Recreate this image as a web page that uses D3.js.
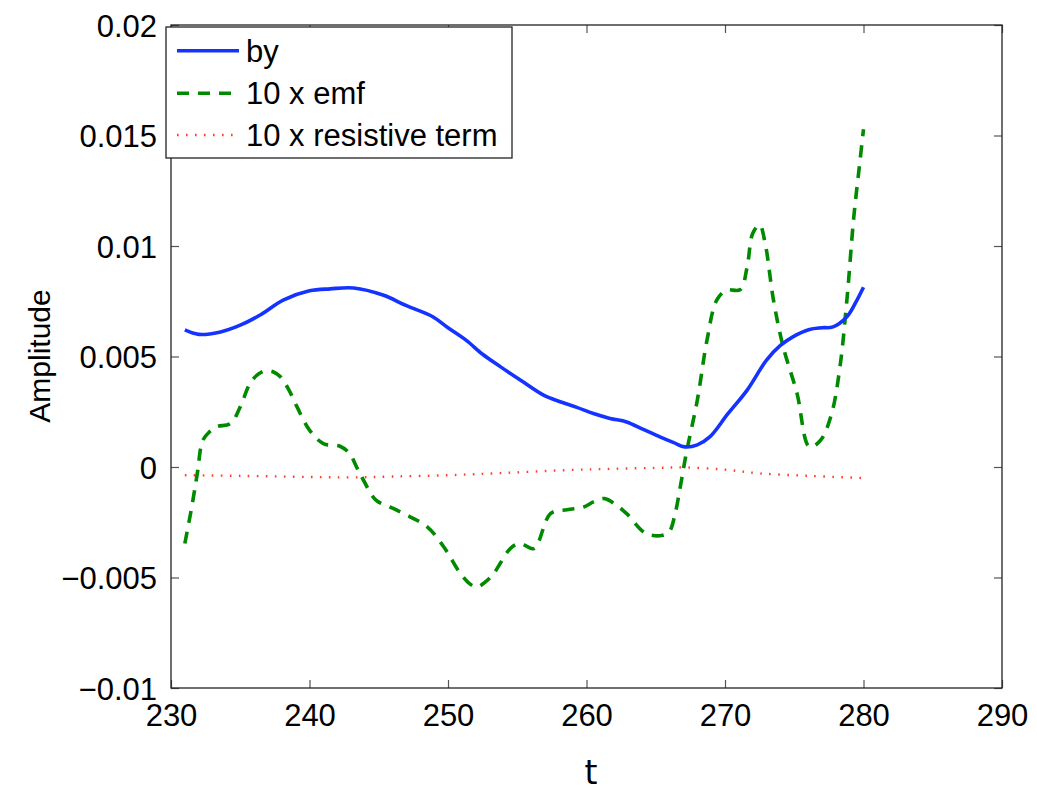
<!DOCTYPE html>
<html><head><meta charset="utf-8">
<script src="https://cdn.jsdelivr.net/npm/d3@7"></script>
<style>
html,body{margin:0;padding:0;background:#fff;}
svg{display:block;}
text{font-family:"Liberation Sans",Arial,Helvetica,sans-serif;}
</style></head>
<body><svg id="chart" width="1037" height="792"></svg>
<script>
const xTicks = [230,240,250,260,270,280,290];
const yTicks = [-0.01,-0.005,0,0.005,0.01,0.015,0.02];
const yTickLabels = ["\u22120.01","\u22120.005","0","0.005","0.01","0.015","0.02"];
const seriesNames = ["by","10 x emf","10 x resistive term"];

const byT = [231.0,232.0,233.5,235.0,236.5,238.1,240.0,241.5,243.2,245.3,247.0,248.9,250.0,251.3,252.5,253.8,255.3,256.9,258.1,259.3,260.5,261.7,262.9,264.1,265.3,266.3,267.1,268.0,268.9,270.2,271.6,273.0,274.0,274.9,276.1,277.0,277.8,278.8,279.4,280.0];
const byV = [0.0062,0.0060,0.0061,0.00642,0.0069,0.00755,0.00797,0.00806,0.0081,0.00778,0.0073,0.0068,0.0063,0.00574,0.0051,0.00453,0.0039,0.00325,0.00295,0.0027,0.00242,0.0022,0.00204,0.0017,0.00136,0.0011,0.00091,0.0010,0.00136,0.0024,0.00348,0.00484,0.0055,0.00589,0.00622,0.0063,0.00634,0.0068,0.0074,0.00813];

const emfT = [231.0,231.5,231.9,232.3,232.8,233.3,234.3,235.0,235.7,236.3,236.8,237.4,237.9,238.5,239.1,240.0,241.0,242.2,242.9,243.4,243.9,244.8,245.8,246.8,248.5,249.7,250.9,251.6,252.1,252.7,253.3,254.5,255.2,256.2,257.4,258.6,259.8,260.5,261.3,262.1,262.9,264.3,265.5,266.0,266.4,266.8,267.2,268.0,268.7,269.4,270.1,271.1,271.6,272.0,272.5,272.9,273.5,274.2,275.2,276.1,276.9,277.7,278.3,278.8,279.3,279.7,280.0];
const emfV = [-0.00346,-0.0018,-0.00029,0.00121,0.0016,0.00182,0.00197,0.00272,0.00378,0.0042,0.00435,0.0043,0.00408,0.0035,0.00272,0.00167,0.00106,0.00094,0.00061,0.0,-0.0006,-0.0015,-0.0018,-0.00211,-0.00271,-0.00362,-0.00482,-0.0053,-0.00543,-0.0052,-0.00482,-0.00369,-0.00346,-0.00369,-0.00211,-0.00193,-0.00181,-0.00158,-0.00143,-0.0017,-0.00211,-0.00301,-0.00309,-0.0029,-0.00211,-0.0008,0.00061,0.00302,0.00574,0.00755,0.0080,0.00803,0.00906,0.01057,0.01095,0.01012,0.00755,0.00544,0.00333,0.00091,0.00121,0.00242,0.00453,0.00755,0.01132,0.01359,0.01528];

const resT = [231.0,235.0,240.0,243.0,246.0,250.0,254.0,258.6,262.0,265.0,267.1,270.0,272.5,276.0,279.6,280.0];
const resV = [-0.00037,-0.0004,-0.00045,-0.00047,-0.00043,-0.00037,-0.00027,-0.00014,-0.00008,-0.00004,-0.00002,-0.00012,-0.00029,-0.0004,-0.00049,-0.0005];

const W = 1037, H = 792;
const m = {left:171, right:W-1002, top:25, bottom:H-688};
const svg = d3.select("#chart");
const x = d3.scaleLinear().domain([230,290]).range([m.left, W-m.right]);
const y = d3.scaleLinear().domain([-0.01,0.02]).range([H-m.bottom, m.top]);

const axisColor = "#555";
const fs = 31;
const gx = svg.append("g").attr("transform",`translate(0,${H-m.bottom})`)
  .call(d3.axisBottom(x).tickValues(xTicks).tickSize(-8).tickPadding(16).tickFormat(d3.format("d")));
const gxt = svg.append("g").attr("transform",`translate(0,${m.top})`)
  .call(d3.axisTop(x).tickValues(xTicks).tickSize(-8).tickFormat(""));
const gy = svg.append("g").attr("transform",`translate(${m.left},0)`)
  .call(d3.axisLeft(y).tickValues(yTicks).tickSize(-8).tickPadding(14).tickFormat((d,i)=>yTickLabels[i]));
const gyr = svg.append("g").attr("transform",`translate(${W-m.right},0)`)
  .call(d3.axisRight(y).tickValues(yTicks).tickSize(-8).tickFormat(""));
[gx,gxt,gy,gyr].forEach(g=>{
  g.select(".domain").remove();
  g.selectAll(".tick line").attr("stroke",axisColor).attr("stroke-width",1.2);
  g.selectAll("text").attr("fill","#000").style("font-size",fs+"px");
});
gx.selectAll("text").attr("dy","0.71em");
gy.selectAll("text").attr("dy","0.36em");
svg.append("rect").attr("x",m.left).attr("y",m.top)
  .attr("width",W-m.left-m.right).attr("height",H-m.top-m.bottom)
  .attr("fill","none").attr("stroke","#222").attr("stroke-width",1.3);

const line = d3.line().x(d=>x(d[0])).y(d=>y(d[1])).curve(d3.curveCatmullRom.alpha(0.5));
const styles = [
  {color:"#1433ff", w:3.6, dash:null},
  {color:"#008a00", w:3.6, dash:"12,9"},
  {color:"#ff3f2a", w:2.4, dash:"1.6,7.4"}
];
const data = [d3.zip(byT,byV), d3.zip(emfT,emfV), d3.zip(resT,resV)];
[2,1,0].forEach(i=>{
  const p = svg.append("path").datum(data[i]).attr("d",line)
    .attr("fill","none").attr("stroke",styles[i].color).attr("stroke-width",styles[i].w)
    .attr("stroke-linejoin","round");
  if(styles[i].dash) p.attr("stroke-dasharray",styles[i].dash);
});

const lg = svg.append("g");
lg.append("rect").attr("x",166).attr("y",27).attr("width",346).attr("height",131)
  .attr("fill","#fff").attr("stroke","#222").attr("stroke-width",1.3);
const rowY = [50.7,93.3,135];
seriesNames.forEach((n,i)=>{
  const l = lg.append("line").attr("x1",177).attr("x2",239).attr("y1",rowY[i]).attr("y2",rowY[i])
    .attr("stroke",styles[i].color).attr("stroke-width",styles[i].w);
  if(styles[i].dash) l.attr("stroke-dasharray",styles[i].dash);
  lg.append("text").attr("x",246).attr("y",rowY[i]).attr("dy","0.36em")
    .style("font-size",fs+"px").text(n);
});

svg.append("text").attr("transform",`translate(50,${(285+427)/2}) rotate(-90)`)
  .attr("text-anchor","middle").style("font-size","30px").text("Amplitude");
svg.append("text").attr("x",591).attr("y",784).attr("text-anchor","middle")
  .style("font-family","'DejaVu Sans',sans-serif").style("font-size","33px").text("t");
</script></body></html>
